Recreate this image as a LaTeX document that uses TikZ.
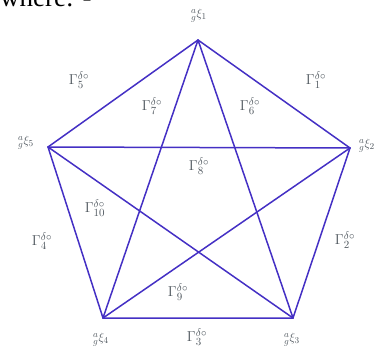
\documentclass[tikz,border=0pt]{standalone}
\usepackage{amsmath, amssymb}
\usepackage{fontspec}
\setmainfont{Liberation Serif}
\usepackage{xcolor}
\definecolor{canhxanh}{RGB}{68,48,196}
\definecolor{chuxam}{RGB}{80,88,95}

\begin{document}
\begin{tikzpicture}[x=1pt, y=-1pt,
    canh/.style={draw=canhxanh, line width=1.5pt, line cap=round},
    nhan/.style={text=chuxam, font=\fontsize{15}{15}\selectfont, inner sep=0pt},
    dinh/.style={text=chuxam, font=\fontsize{13}{13}\selectfont, inner sep=0pt}]
    \useasboundingbox (0,0) rectangle (382,352);

    % Dòng chữ phía trên (bị cắt)
    \node[anchor=base west, inner sep=0pt, font=\fontsize{27}{27}\selectfont] (tieude) at (0,7) {where: -};

    % Năm đỉnh của ngũ giác
    \coordinate (v1) at (198,40);
    \coordinate (v2) at (350,148);
    \coordinate (v3) at (293,318);
    \coordinate (v4) at (103,318);
    \coordinate (v5) at (48,147);

    % Cạnh ngũ giác
    \draw[canh] (v1) -- (v2) -- (v3) -- (v4) -- (v5) -- cycle;
    % Các đường chéo (ngôi sao)
    \draw[canh] (v1) -- (v3);
    \draw[canh] (v1) -- (v4);
    \draw[canh] (v5) -- (v2);
    \draw[canh] (v5) -- (v3);
    \draw[canh] (v2) -- (v4);

    % Tên các đỉnh
    \node[dinh] (t1) at (199,16)  {${}^{a}_{g}\xi_{1}$};
    \node[dinh] (t2) at (367,146) {${}^{a}_{g}\xi_{2}$};
    \node[dinh] (t3) at (292,340) {${}^{a}_{g}\xi_{3}$};
    \node[dinh] (t4) at (101,340) {${}^{a}_{g}\xi_{4}$};
    \node[dinh] (t5) at (26,143)  {${}^{a}_{g}\xi_{5}$};

    % Nhãn các cạnh
    \node[nhan] (g1)  at (316,80)  {$\Gamma_{1}^{\delta\circ}$};
    \node[nhan] (g2)  at (345,240) {$\Gamma_{2}^{\delta\circ}$};
    \node[nhan] (g3)  at (197,337) {$\Gamma_{3}^{\delta\circ}$};
    \node[nhan] (g4)  at (42,241)  {$\Gamma_{4}^{\delta\circ}$};
    \node[nhan] (g5)  at (79,80)   {$\Gamma_{5}^{\delta\circ}$};
    \node[nhan] (g6)  at (250,106) {$\Gamma_{6}^{\delta\circ}$};
    \node[nhan] (g7)  at (152,106) {$\Gamma_{7}^{\delta\circ}$};
    \node[nhan] (g8)  at (199,166) {$\Gamma_{8}^{\delta\circ}$};
    \node[nhan] (g9)  at (178,292) {$\Gamma_{9}^{\delta\circ}$};
    \node[nhan] (g10) at (95,208)  {$\Gamma_{10}^{\delta\circ}$};
\end{tikzpicture}
\end{document}
